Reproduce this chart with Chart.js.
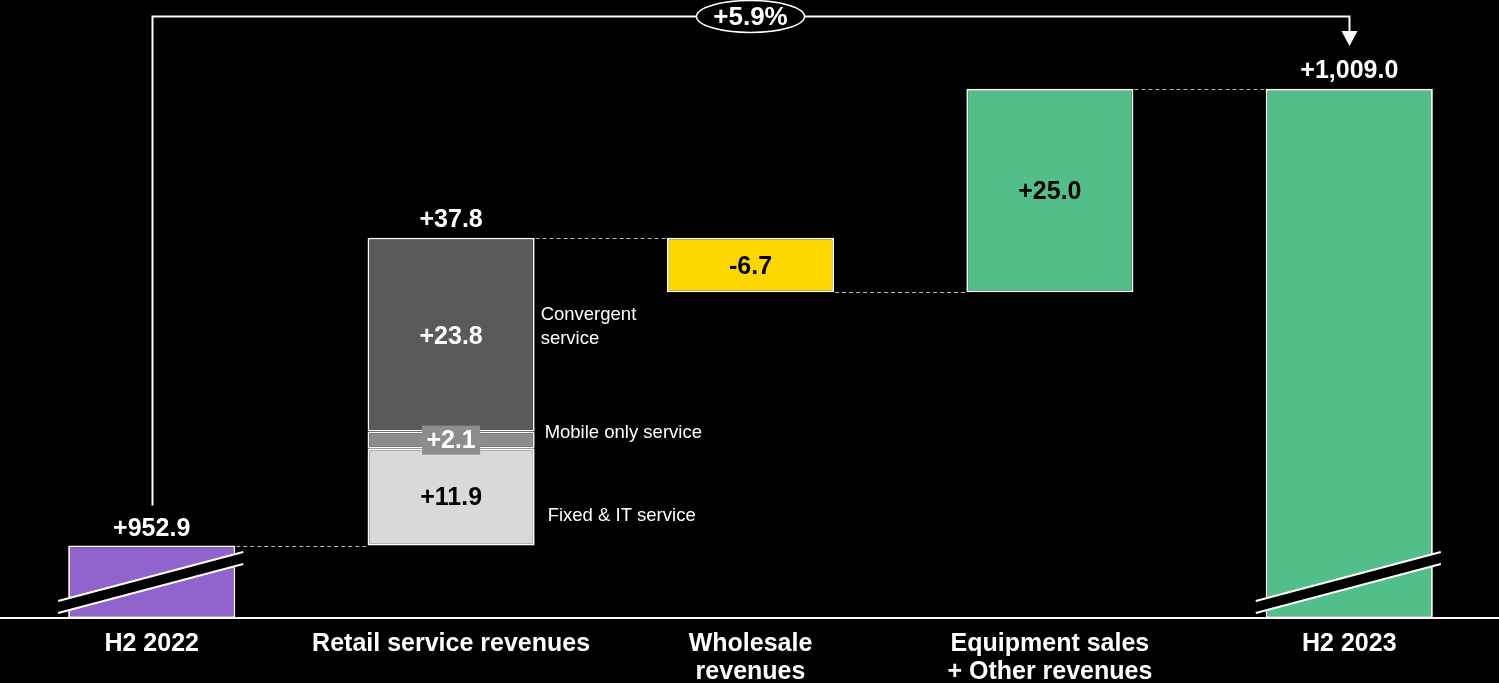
<!DOCTYPE html>
<html>
<head>
<meta charset="utf-8">
<title>Revenue bridge H2 2022 - H2 2023</title>
<script src="https://cdn.jsdelivr.net/npm/chart.js@4.4.0/dist/chart.umd.min.js"></script>
<style>
  html, body { margin: 0; padding: 0; background: #000; }
  #wrap { width: 1499px; height: 683px; position: relative; }
</style>
</head>
<body>
<div id="wrap"><canvas id="bridgeChart"></canvas></div>
<script>
// Bridge data (EUR m)
const categories = [["H2 2022"], ["Retail service revenues"], ["Wholesale", "revenues"], ["Equipment sales", "+ Other revenues"], ["H2 2023"]];
const startValue = 952.9;
const endValue = 1009.0;
const retailParts = ["Fixed & IT service", "Mobile only service", "Convergent service"];
const retailValues = [11.9, 2.1, 23.8];
const wholesaleValue = -6.7;
const equipmentValue = 25.0;
// broken axis: the scale starts just under the first total
const axisMin = 944;
const axisMax = 1015;

const FONT = "'Liberation Sans', Arial, sans-serif";
const VALUE_FONT = "bold 25px " + FONT;
const round1 = v => Math.round(v * 10) / 10;
const fmt = v => (v < 0 ? "-" : "+") + Math.abs(v).toLocaleString("en-US", { minimumFractionDigits: 1, maximumFractionDigits: 1 });

const retailTotal = round1(retailValues.reduce((a, b) => a + b, 0));
const afterRetail = round1(startValue + retailTotal);
const afterWholesale = round1(afterRetail + wholesaleValue);
const afterEquipment = round1(afterWholesale + equipmentValue);
const levels = [startValue, afterRetail, afterWholesale, afterEquipment];
const growth = (endValue - startValue) / startValue * 100;

const span = (a, b) => [Math.min(a, b), Math.max(a, b)];

// totals + single-step bars
const stepData = [
    [axisMin, startValue],
    null,
    span(afterRetail, afterWholesale),
    span(afterWholesale, afterEquipment),
    [axisMin, endValue]
];
const stepColors = ["#9063CD", "#000", "#FFD700", "#52BF8A", "#52BF8A"];

// retail stack, bottom to top
const retailColors = ["#D9D9D9", "#8C8C8C", "#5A5A5A"];
let acc = startValue;
const retailSets = retailValues.map((v, i) => {
    const lo = acc;
    acc = round1(acc + v);
    return {
        label: retailParts[i],
        data: [null, [lo, acc], null, null, null],
        backgroundColor: retailColors[i]
    };
});

const barStyle = {
    borderColor: "#fff",
    borderWidth: 1.8,
    borderSkipped: false,
    grouped: false,
    barPercentage: 0.558,
    categoryPercentage: 1
};

const bridgeDecor = {
    id: "bridgeDecor",
    afterDatasetsDraw(chart) {
        const ctx = chart.ctx;
        const yScale = chart.scales.y;
        const area = chart.chartArea;
        const steps = chart.getDatasetMeta(0).data.map(el => el.getProps(["x", "y", "base", "width"], true));
        const retail = [1, 2, 3].map(d => chart.getDatasetMeta(d).data[1].getProps(["x", "y", "base", "width"], true));

        ctx.save();

        // full-width baseline
        ctx.strokeStyle = "#fff";
        ctx.lineWidth = 2;
        ctx.beginPath();
        ctx.moveTo(0, area.bottom);
        ctx.lineTo(chart.width, area.bottom);
        ctx.stroke();

        // dashed connectors between neighbouring bars
        ctx.strokeStyle = "#b5b5b5";
        ctx.lineWidth = 1;
        ctx.setLineDash([4, 3]);
        levels.forEach((lvl, i) => {
            const y = Math.round(yScale.getPixelForValue(lvl)) + 0.5;
            ctx.beginPath();
            ctx.moveTo(steps[i].x + steps[i].width / 2 + 1, y);
            ctx.lineTo(steps[i + 1].x - steps[i + 1].width / 2 - 1, y);
            ctx.stroke();
        });
        ctx.setLineDash([]);

        // axis break marks on the two totals
        [0, 4].forEach(i => {
            const s = steps[i];
            const x1 = s.x - s.width / 2 - 10, x2 = s.x + s.width / 2 + 8;
            const yA = area.bottom - 17, yB = area.bottom - 66, gap = 12;
            ctx.fillStyle = "#000";
            ctx.beginPath();
            ctx.moveTo(x1, yA); ctx.lineTo(x2, yB);
            ctx.lineTo(x2, yB + gap); ctx.lineTo(x1, yA + gap);
            ctx.closePath();
            ctx.fill();
            ctx.strokeStyle = "#fff";
            ctx.lineWidth = 2;
            ctx.beginPath();
            ctx.moveTo(x1, yA); ctx.lineTo(x2, yB);
            ctx.moveTo(x1, yA + gap); ctx.lineTo(x2, yB + gap);
            ctx.stroke();
        });

        // value labels
        ctx.textAlign = "center";
        ctx.textBaseline = "middle";
        ctx.font = VALUE_FONT;
        ctx.fillStyle = "#fff";
        ctx.fillText(fmt(startValue), steps[0].x, steps[0].y - 16);
        ctx.fillText(fmt(endValue), steps[4].x, steps[4].y - 18);
        ctx.fillText(fmt(retailTotal), retail[2].x, retail[2].y - 18);

        // convergent (white), mobile (boxed), fixed (dark)
        ctx.fillText(fmt(retailValues[2]), retail[2].x, (retail[2].y + retail[2].base) / 2 + 2);
        const mobY = (retail[1].y + retail[1].base) / 2;
        ctx.fillStyle = retailColors[1];
        ctx.fillRect(retail[1].x - 29, mobY - 14.5, 58, 29);
        ctx.fillStyle = "#fff";
        ctx.fillText(fmt(retailValues[1]), retail[1].x, mobY + 1);
        ctx.fillStyle = "#000";
        ctx.fillText(fmt(retailValues[0]), retail[0].x, (retail[0].y + retail[0].base) / 2 + 1);
        ctx.fillText(fmt(wholesaleValue), steps[2].x, (steps[2].y + steps[2].base) / 2 + 2);
        ctx.fillText(fmt(equipmentValue), steps[3].x, (steps[3].y + steps[3].base) / 2 + 2);

        // retail component names
        const right = retail[0].x + retail[0].width / 2;
        ctx.textAlign = "left";
        ctx.fillStyle = "#fff";
        ctx.font = "18.5px " + FONT;
        const convMid = (retail[2].y + retail[2].base) / 2;
        ctx.fillText("Convergent", right + 6, convMid - 20);
        ctx.fillText("service", right + 6, convMid + 4);
        ctx.fillText(retailParts[1], right + 10, mobY - 7);
        ctx.fillText(retailParts[0], right + 13, (retail[0].y + retail[0].base) / 2 + 19);

        // growth bracket with arrow
        const topY = 16.5;
        const xL = Math.round(steps[0].x) + 0.5, xR = Math.round(steps[4].x) + 0.5;
        ctx.strokeStyle = "#fff";
        ctx.lineWidth = 2;
        ctx.beginPath();
        ctx.moveTo(xL, steps[0].y - 40);
        ctx.lineTo(xL, topY);
        ctx.lineTo(xR, topY);
        ctx.lineTo(xR, 32);
        ctx.stroke();
        ctx.fillStyle = "#fff";
        ctx.beginPath();
        ctx.moveTo(xR - 8, 31);
        ctx.lineTo(xR + 8, 31);
        ctx.lineTo(xR, 46);
        ctx.closePath();
        ctx.fill();

        const cx = (steps[0].x + steps[4].x) / 2;
        ctx.beginPath();
        ctx.ellipse(cx, topY, 54, 16, 0, 0, Math.PI * 2);
        ctx.fillStyle = "#000";
        ctx.fill();
        ctx.lineWidth = 1.5;
        ctx.stroke();
        ctx.fillStyle = "#fff";
        ctx.textAlign = "center";
        ctx.font = "bold 26px " + FONT;
        ctx.fillText("+" + growth.toFixed(1) + "%", cx, topY + 1);

        ctx.restore();
    }
};

new Chart(document.getElementById("bridgeChart"), {
    type: "bar",
    data: {
        labels: categories,
        datasets: [
            Object.assign({ label: "Steps", data: stepData, backgroundColor: stepColors }, barStyle),
            ...retailSets.map(s => Object.assign(s, barStyle))
        ]
    },
    options: {
        responsive: true,
        maintainAspectRatio: false,
        animation: false,
        layout: { padding: { top: 40, left: 2, right: 0, bottom: 0 } },
        plugins: {
            legend: { display: false },
            tooltip: { enabled: false }
        },
        scales: {
            x: {
                grid: { display: false, drawTicks: false },
                border: { color: "#fff", width: 2 },
                ticks: {
                    color: "#fff",
                    padding: 12,
                    maxRotation: 0,
                    autoSkip: false,
                    font: { family: FONT, size: 25, weight: "bold", lineHeight: 1.12 }
                },
                afterFit: s => { s.height = 65; }
            },
            y: {
                display: false,
                min: axisMin,
                max: axisMax
            }
        }
    },
    plugins: [bridgeDecor]
});
</script>
</body>
</html>
